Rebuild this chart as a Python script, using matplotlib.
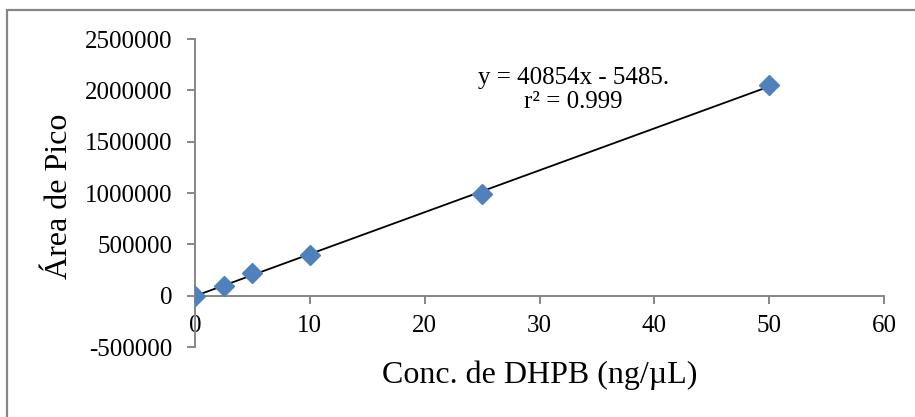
import matplotlib
matplotlib.use("Agg")
import matplotlib.pyplot as plt
import numpy as np
from matplotlib.patches import Rectangle

plt.rcParams['font.family'] = ['Liberation Serif', 'DejaVu Serif']

conc = [0, 2.5, 5, 10, 25, 50]
area = [0, 95000, 220000, 400000, 990000, 2050000]
eq_text = "y = 40854x - 5485.\nr\u00b2 = 0.999"
x_ticks = [0, 10, 20, 30, 40, 50, 60]
y_ticks = [-500000, 0, 500000, 1000000, 1500000, 2000000, 2500000]

grey = '#868686'

fig = plt.figure(figsize=(9.15, 4.17), dpi=100)
# chart border (runs off right/bottom edge like the screenshot)
fig.patches.append(Rectangle((7 / 915, -0.2), 1.2, 1.2 - 10 / 417,
                             transform=fig.transFigure, fill=False,
                             edgecolor=grey, linewidth=1.6))

ax = fig.add_axes([195 / 915, 70 / 417, 689 / 915, 308 / 417])

# trendline from least squares fit
slope, icpt = np.polyfit(conc, area, 1)
xl = np.array([0, max(conc)])
ax.plot(xl, slope * xl + icpt, color='black', lw=1.3, zorder=2)
ax.plot(conc, area, linestyle='none', marker='D', ms=10.5,
        color='#4F81BD', mec='#4F81BD', zorder=3)

ax.set_xlim(0, 60)
ax.set_ylim(-500000, 2500000)
ax.set_xticks(x_ticks)
ax.set_yticks(y_ticks)
ax.set_xticklabels([str(t) for t in x_ticks])
ax.set_yticklabels([str(t) for t in y_ticks])

for s in ['top', 'right']:
    ax.spines[s].set_visible(False)
ax.spines['bottom'].set_position(('data', 0))
for s in ['left', 'bottom']:
    ax.spines[s].set_color(grey)
    ax.spines[s].set_linewidth(1.4)

ax.tick_params(axis='both', direction='out', length=6, width=1.4,
               color=grey, labelsize=18, labelcolor='black')
ax.tick_params(axis='y', pad=10)
ax.tick_params(axis='x', pad=8)

ax.set_xlabel('Conc. de DHPB (ng/\u00b5L)', fontsize=23)
ax.xaxis.set_label_coords(0.5, -0.045)
ax.set_ylabel('\u00c1rea de Pico', fontsize=23)
ax.yaxis.set_label_coords(-0.175, 0.49)

ax.text(0.549, 0.835, eq_text, transform=ax.transAxes, ha='center',
        va='center', fontsize=18, linespacing=1.15)

fig.savefig('out.png', dpi=100)
